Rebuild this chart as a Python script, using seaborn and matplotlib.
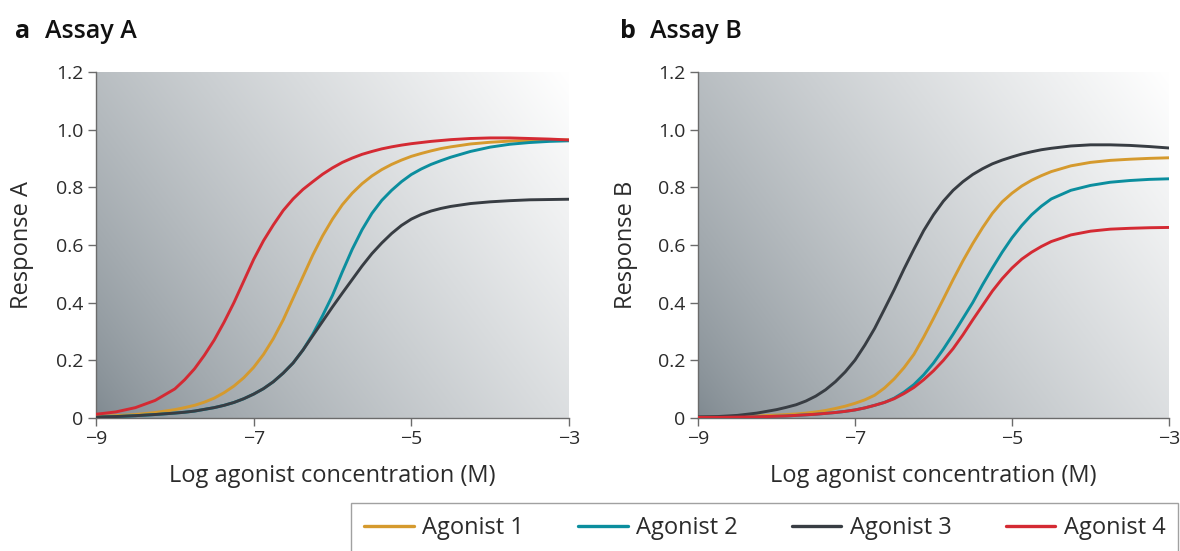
import numpy as np
import pandas as pd
import matplotlib
matplotlib.use("Agg")
import matplotlib.pyplot as plt
from matplotlib.lines import Line2D
import seaborn as sns

# ---------------- data ----------------
log_conc = [-9.0, -8.75, -8.5, -8.25,
            -8.0, -7.875, -7.75, -7.625, -7.5, -7.375, -7.25, -7.125,
            -7.0, -6.875, -6.75, -6.625, -6.5, -6.375, -6.25, -6.125,
            -6.0, -5.875, -5.75, -5.625, -5.5, -5.375, -5.25, -5.125,
            -5.0, -4.875, -4.75, -4.625, -4.5,
            -4.25, -4.0, -3.75, -3.5, -3.25, -3.0]

agonists = ["Agonist 1", "Agonist 2", "Agonist 3", "Agonist 4"]

# Assay A
a_agonist1 = [0.004, 0.007, 0.011, 0.018,
              0.028, 0.035, 0.043, 0.054, 0.068, 0.087, 0.11, 0.139,
              0.175, 0.22, 0.275, 0.34, 0.415, 0.49, 0.565, 0.632,
              0.69, 0.74, 0.78, 0.813, 0.84, 0.862, 0.88, 0.895,
              0.908, 0.918, 0.927, 0.935, 0.941,
              0.951, 0.957, 0.961, 0.963, 0.964, 0.965]
a_agonist2 = [0.002, 0.004, 0.007, 0.011,
              0.016, 0.019, 0.023, 0.029, 0.035, 0.043, 0.053, 0.066,
              0.082, 0.101, 0.125, 0.155, 0.19, 0.235, 0.29, 0.355,
              0.425, 0.507, 0.585, 0.653, 0.71, 0.755, 0.79, 0.82,
              0.845, 0.864, 0.88, 0.893, 0.905,
              0.925, 0.94, 0.95, 0.956, 0.96, 0.962]
a_agonist3 = [0.002, 0.004, 0.007, 0.011,
              0.016, 0.019, 0.023, 0.029, 0.035, 0.043, 0.053, 0.066,
              0.082, 0.101, 0.125, 0.155, 0.19, 0.235, 0.285, 0.335,
              0.385, 0.433, 0.48, 0.527, 0.57, 0.607, 0.64, 0.668,
              0.69, 0.706, 0.718, 0.727, 0.734,
              0.744, 0.75, 0.754, 0.757, 0.758, 0.759]
a_agonist4 = [0.012, 0.02, 0.035, 0.06,
              0.10, 0.132, 0.17, 0.217, 0.27, 0.332, 0.40, 0.475,
              0.55, 0.615, 0.67, 0.72, 0.76, 0.793, 0.82, 0.846,
              0.868, 0.887, 0.902, 0.915, 0.925, 0.934, 0.941, 0.947,
              0.952, 0.956, 0.96, 0.963, 0.966,
              0.97, 0.972, 0.972, 0.97, 0.968, 0.965]

# Assay B
b_agonist1 = [0.001, 0.002, 0.004, 0.006,
              0.009, 0.011, 0.013, 0.016, 0.02, 0.025, 0.032, 0.04,
              0.05, 0.062, 0.078, 0.103, 0.135, 0.174, 0.22, 0.28,
              0.345, 0.412, 0.48, 0.545, 0.605, 0.66, 0.71, 0.75,
              0.78, 0.805, 0.825, 0.841, 0.855,
              0.875, 0.887, 0.894, 0.898, 0.901, 0.903]
b_agonist2 = [0.001, 0.001, 0.002, 0.003,
              0.005, 0.006, 0.008, 0.01, 0.012, 0.015, 0.018, 0.022,
              0.027, 0.034, 0.043, 0.053, 0.068, 0.089, 0.115, 0.149,
              0.19, 0.238, 0.29, 0.345, 0.40, 0.462, 0.52, 0.575,
              0.625, 0.668, 0.705, 0.735, 0.76,
              0.79, 0.807, 0.818, 0.824, 0.828, 0.83]
b_agonist3 = [0.003, 0.004, 0.008, 0.016,
              0.028, 0.036, 0.045, 0.058, 0.075, 0.097, 0.125, 0.159,
              0.20, 0.252, 0.31, 0.377, 0.445, 0.517, 0.585, 0.65,
              0.705, 0.752, 0.79, 0.82, 0.845, 0.865, 0.882, 0.895,
              0.906, 0.916, 0.924, 0.931, 0.936,
              0.944, 0.948, 0.948, 0.946, 0.942, 0.937]
b_agonist4 = [0.001, 0.001, 0.002, 0.003,
              0.005, 0.006, 0.008, 0.01, 0.012, 0.015, 0.018, 0.022,
              0.027, 0.034, 0.043, 0.053, 0.066, 0.084, 0.105, 0.132,
              0.163, 0.199, 0.24, 0.288, 0.34, 0.39, 0.44, 0.483,
              0.52, 0.551, 0.575, 0.595, 0.612,
              0.635, 0.648, 0.655, 0.658, 0.66, 0.661]

x_ticks = [-9, -7, -5, -3]
x_tick_labels = ["\u22129", "\u22127", "\u22125", "\u22123"]
y_ticks = [0, 0.2, 0.4, 0.6, 0.8, 1.0, 1.2]
y_tick_labels = ["0", "0.2", "0.4", "0.6", "0.8", "1.0", "1.2"]

panel_letters = ["a", "b"]
panel_titles = ["Assay A", "Assay B"]
y_labels = ["Response A", "Response B"]
x_label = "Log agonist concentration (M)"

colors = ["#D59A2E", "#0B8E9E", "#383D43", "#D42A33"]

# ---------------- build tidy frames ----------------
def tidy(series):
    rows = []
    for name, vals in zip(agonists, series):
        assert len(vals) == len(log_conc), (name, len(vals))
        for x, y in zip(log_conc, vals):
            rows.append({"log_conc": x, "response": y, "agonist": name})
    return pd.DataFrame(rows)

df_a = tidy([a_agonist1, a_agonist2, a_agonist3, a_agonist4])
df_b = tidy([b_agonist1, b_agonist2, b_agonist3, b_agonist4])

# ---------------- style ----------------
sns.set_theme(style="ticks")
plt.rcParams["font.family"] = ["Open Sans", "DejaVu Sans"]
plt.rcParams["axes.unicode_minus"] = True

W, H = 1180, 551
fig = plt.figure(figsize=(W / 100, H / 100), dpi=100)
fig.patch.set_facecolor("white")

ax_a = fig.add_axes([96 / W, 1 - 417.7 / H, 473 / W, 345.4 / H])
ax_b = fig.add_axes([698 / W, 1 - 417.7 / H, 471 / W, 345.4 / H])

# gradient background (style only)
gx, gy = np.meshgrid(np.linspace(0, 1, 300), np.linspace(0, 1, 220))
t = np.clip((gx * 0.65 + gy * 0.35), 0, 1) ** 0.75
dark = np.array([126, 136, 143]) / 255.0
light = np.array([255, 255, 255]) / 255.0
grad = dark[None, None, :] * (1 - t[..., None]) + light[None, None, :] * t[..., None]

palette = dict(zip(agonists, colors))
tick_col = "#6b6b6b"
text_col = "#2b2b2b"

label_x = [-0.131, -0.128]

for ax, df, letter, title, ylab, xpx, lx in zip(
        [ax_a, ax_b], [df_a, df_b], panel_letters, panel_titles, y_labels, [15, 620], label_x):
    ax.imshow(grad, extent=(-9, -3, 0, 1.2), origin="lower", aspect="auto",
              zorder=0, interpolation="bicubic")
    sns.lineplot(data=df, x="log_conc", y="response", hue="agonist", palette=palette,
                 linewidth=2.1, ax=ax, legend=False, zorder=3)
    for ln in ax.get_lines():
        ln.set_solid_joinstyle("round")
    ax.set_xlim(-9, -3)
    ax.set_ylim(0, 1.2)
    ax.set_xticks(x_ticks)
    ax.set_xticklabels(x_tick_labels)
    ax.set_yticks(y_ticks)
    ax.set_yticklabels(y_tick_labels)
    ax.tick_params(axis="both", direction="out", length=6, width=1.0, color=tick_col,
                   labelsize=14, labelcolor=text_col, pad=3)
    for s in ["top", "right"]:
        ax.spines[s].set_visible(False)
    for s in ["left", "bottom"]:
        ax.spines[s].set_color(tick_col)
        ax.spines[s].set_linewidth(1.0)
    ax.set_xlabel(x_label, fontsize=17, color=text_col)
    ax.set_ylabel(ylab, fontsize=17, color=text_col)
    ax.xaxis.set_label_coords(0.5, -0.135)
    ax.yaxis.set_label_coords(lx, 0.5)
    fig.text(xpx / W, 1 - 32 / H, letter, fontsize=18, fontweight="bold",
             color="#111111", va="center", ha="left")
    fig.text((xpx + 30) / W, 1 - 32 / H, title, fontsize=18, fontweight="semibold",
             color="#111111", va="center", ha="left")

handles = [Line2D([0], [0], color=c, lw=2.4) for c in colors]
leg = fig.legend(handles, agonists, loc="upper left", bbox_to_anchor=(351 / W, 1 - 503 / H),
                 ncol=4, frameon=True, fancybox=False, fontsize=17, handlelength=2.1,
                 handletextpad=0.35, columnspacing=2.3, borderpad=0.55, borderaxespad=0)
leg.get_frame().set_edgecolor("#8a8a8a")
leg.get_frame().set_linewidth(1.0)
for txt in leg.get_texts():
    txt.set_color(text_col)

fig.savefig("out.png", dpi=100)
